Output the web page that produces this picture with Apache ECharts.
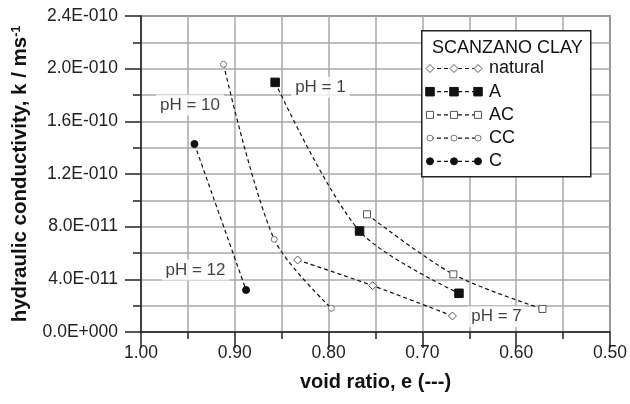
<!DOCTYPE html>
<html>
<head>
<meta charset="utf-8">
<script src="https://cdn.jsdelivr.net/npm/echarts@6/dist/echarts.min.js"></script>
<style>html,body{margin:0;padding:0;background:#fff;}#c{width:630px;height:404px;}</style>
</head>
<body>
<div id="c"></div>
<script>
// ---- data ----
var seriesNames = ['natural', 'A', 'AC', 'CC', 'C'];
var xNatural = [0.833, 0.753, 0.668];
var yNatural = [5.47e-11, 3.52e-11, 1.22e-11];
var xA = [0.857, 0.767, 0.661];
var yA = [1.896e-10, 7.67e-11, 2.94e-11];
var xAC = [0.759, 0.667, 0.572];
var yAC = [8.94e-11, 4.38e-11, 1.75e-11];
var xCC = [0.912, 0.858, 0.797];
var yCC = [2.033e-10, 7.04e-11, 1.80e-11];
var xC = [0.943, 0.888];
var yC = [1.428e-10, 3.19e-11];
var yTickLabels = ['0.0E+000', '4.0E-011', '8.0E-011', '1.2E-010', '1.6E-010', '2.0E-010', '2.4E-010'];
var annText = ['pH = 1', 'pH = 10', 'pH = 12', 'pH = 7'];
var annX = [0.8087, 0.9478, 0.9419, 0.621];
var annY = [1.858e-10, 1.724e-10, 4.71e-11, 1.16e-11];
var legendTitle = 'SCANZANO CLAY';

function pairs(xs, ys) { return xs.map(function (x, i) { return [x, ys[i]]; }); }

var FONT = '"Liberation Sans", Arial, sans-serif';
var chart = echarts.init(document.getElementById('c'), null, { renderer: 'canvas' });

// marker styles per series (natural, A, AC, CC, C)
var mSymbol = ['diamond', 'rect', 'rect', 'circle', 'circle'];
var mSize = [8, 8.5, 7, 6, 7];
var mFill = ['#fff', '#111', '#fff', '#fff', '#111'];
var mBorder = ['#555', '#111', '#555', '#777', '#111'];

var lineDash = { color: '#111', width: 1.2, type: [4, 3] };
function mk(i, data) {
  return {
    name: seriesNames[i], type: 'line', data: data, smooth: 0.3,
    symbol: mSymbol[i], symbolSize: mSize[i], showSymbol: true,
    lineStyle: lineDash,
    itemStyle: { color: mFill[i], borderColor: mBorder[i], borderWidth: 1 },
    z: 3
  };
}

var annData = annText.map(function (t, i) { return { name: t, value: [annX[i], annY[i]] }; });

// legend drawn as decoration (box, title, sample lines with 3 markers)
var LBX = 421, LBY = 30, LBW = 169, LBH = 146;
var graphics = [
  { type: 'rect', left: LBX, top: LBY, z: 10, shape: { width: LBW, height: LBH }, style: { fill: '#fff', stroke: '#222', lineWidth: 1.5 } },
  { type: 'text', x: LBX + 11, y: LBY + 18, z: 11, style: { text: legendTitle, font: '18px ' + FONT, fill: '#111', textVerticalAlign: 'middle' } }
];
function markerShape(i, cx, cy) {
  var s = mSize[i] / 2;
  var st = { fill: mFill[i], stroke: mBorder[i], lineWidth: 1 };
  if (mSymbol[i] === 'circle') return { type: 'circle', z: 12, shape: { cx: cx, cy: cy, r: s }, style: st };
  if (mSymbol[i] === 'rect') return { type: 'rect', z: 12, shape: { x: cx - s, y: cy - s, width: 2 * s, height: 2 * s }, style: st };
  return { type: 'polygon', z: 12, shape: { points: [[cx, cy - s], [cx + s, cy], [cx, cy + s], [cx - s, cy]] }, style: st };
}
seriesNames.forEach(function (n, i) {
  var cy = LBY + 38.5 + i * 23.2;
  var x0 = LBX + 9, x1 = LBX + 57;
  graphics.push({ type: 'line', z: 11, shape: { x1: x0, y1: cy, x2: x1, y2: cy }, style: { stroke: '#111', lineWidth: 1.2, lineDash: [4, 3] } });
  [x0, (x0 + x1) / 2, x1].forEach(function (cx) { graphics.push(markerShape(i, cx, cy)); });
  graphics.push({ type: 'text', x: LBX + 68, y: cy, z: 11, style: { text: n, font: '18px ' + FONT, fill: '#111', textVerticalAlign: 'middle' } });
});

var option = {
  animation: false,
  backgroundColor: '#fff',
  textStyle: { fontFamily: FONT },
  grid: { left: 141, right: 20, top: 16, bottom: 72, show: true, borderColor: '#333', borderWidth: 1.5, backgroundColor: 'transparent' },
  xAxis: {
    type: 'value', inverse: true, min: 0.5, max: 1.0, interval: 0.1,
    name: 'void ratio, e (---)', nameLocation: 'middle', nameGap: 40,
    nameTextStyle: { fontFamily: FONT, fontWeight: 'bold', fontSize: 20, color: '#111' },
    axisLine: { lineStyle: { color: '#222', width: 1.5 } },
    axisTick: { show: true, length: 16, lineStyle: { color: '#222', width: 1.5 } },
    minorTick: { show: true, splitNumber: 2, length: 7, lineStyle: { color: '#222', width: 1.5 } },
    splitLine: { show: true, lineStyle: { color: '#a8a8a8', width: 1.5 } },
    minorSplitLine: { show: true, lineStyle: { color: '#a8a8a8', width: 1.5 } },
    axisLabel: { fontFamily: FONT, fontSize: 17.5, color: '#222', margin: 12, formatter: function (v) { return v.toFixed(2); } }
  },
  yAxis: {
    type: 'value', min: 0, max: 2.4e-10, interval: 4e-11,
    name: '{t|hydraulic conductivity, k / ms}{s|-1}', nameLocation: 'middle', nameGap: 110, nameRotate: 90,
    nameTextStyle: {
      rich: {
        t: { fontFamily: FONT, fontWeight: 'bold', fontSize: 20.5, color: '#111' },
        s: { fontFamily: FONT, fontWeight: 'bold', fontSize: 12.5, color: '#111', verticalAlign: 'top', padding: [0, 0, 8, 0] }
      }
    },
    axisLine: { lineStyle: { color: '#222', width: 1.5 } },
    axisTick: { show: true, length: 16, lineStyle: { color: '#222', width: 1.5 } },
    minorTick: { show: true, splitNumber: 2, length: 8, lineStyle: { color: '#222', width: 1.5 } },
    splitLine: { show: true, lineStyle: { color: '#a8a8a8', width: 1.5 } },
    minorSplitLine: { show: true, lineStyle: { color: '#a8a8a8', width: 1.5 } },
    axisLabel: { fontFamily: FONT, fontSize: 17.5, color: '#222', margin: 23,
      formatter: function (v) { return yTickLabels[Math.round(v / 4e-11)] || ''; } }
  },
  graphic: graphics,
  series: [
    mk(0, pairs(xNatural, yNatural)),
    mk(1, pairs(xA, yA)),
    mk(2, pairs(xAC, yAC)),
    mk(3, pairs(xCC, yCC)),
    mk(4, pairs(xC, yC)),
    {
      name: 'annotations', type: 'scatter', data: annData, symbolSize: 0, z: 2,
      label: { show: true, position: 'inside', formatter: function (p) { return p.name; },
        fontFamily: FONT, fontSize: 17, color: '#111', backgroundColor: '#fff', padding: [2, 4] },
      silent: true
    }
  ]
};
chart.setOption(option);
</script>
</body>
</html>
